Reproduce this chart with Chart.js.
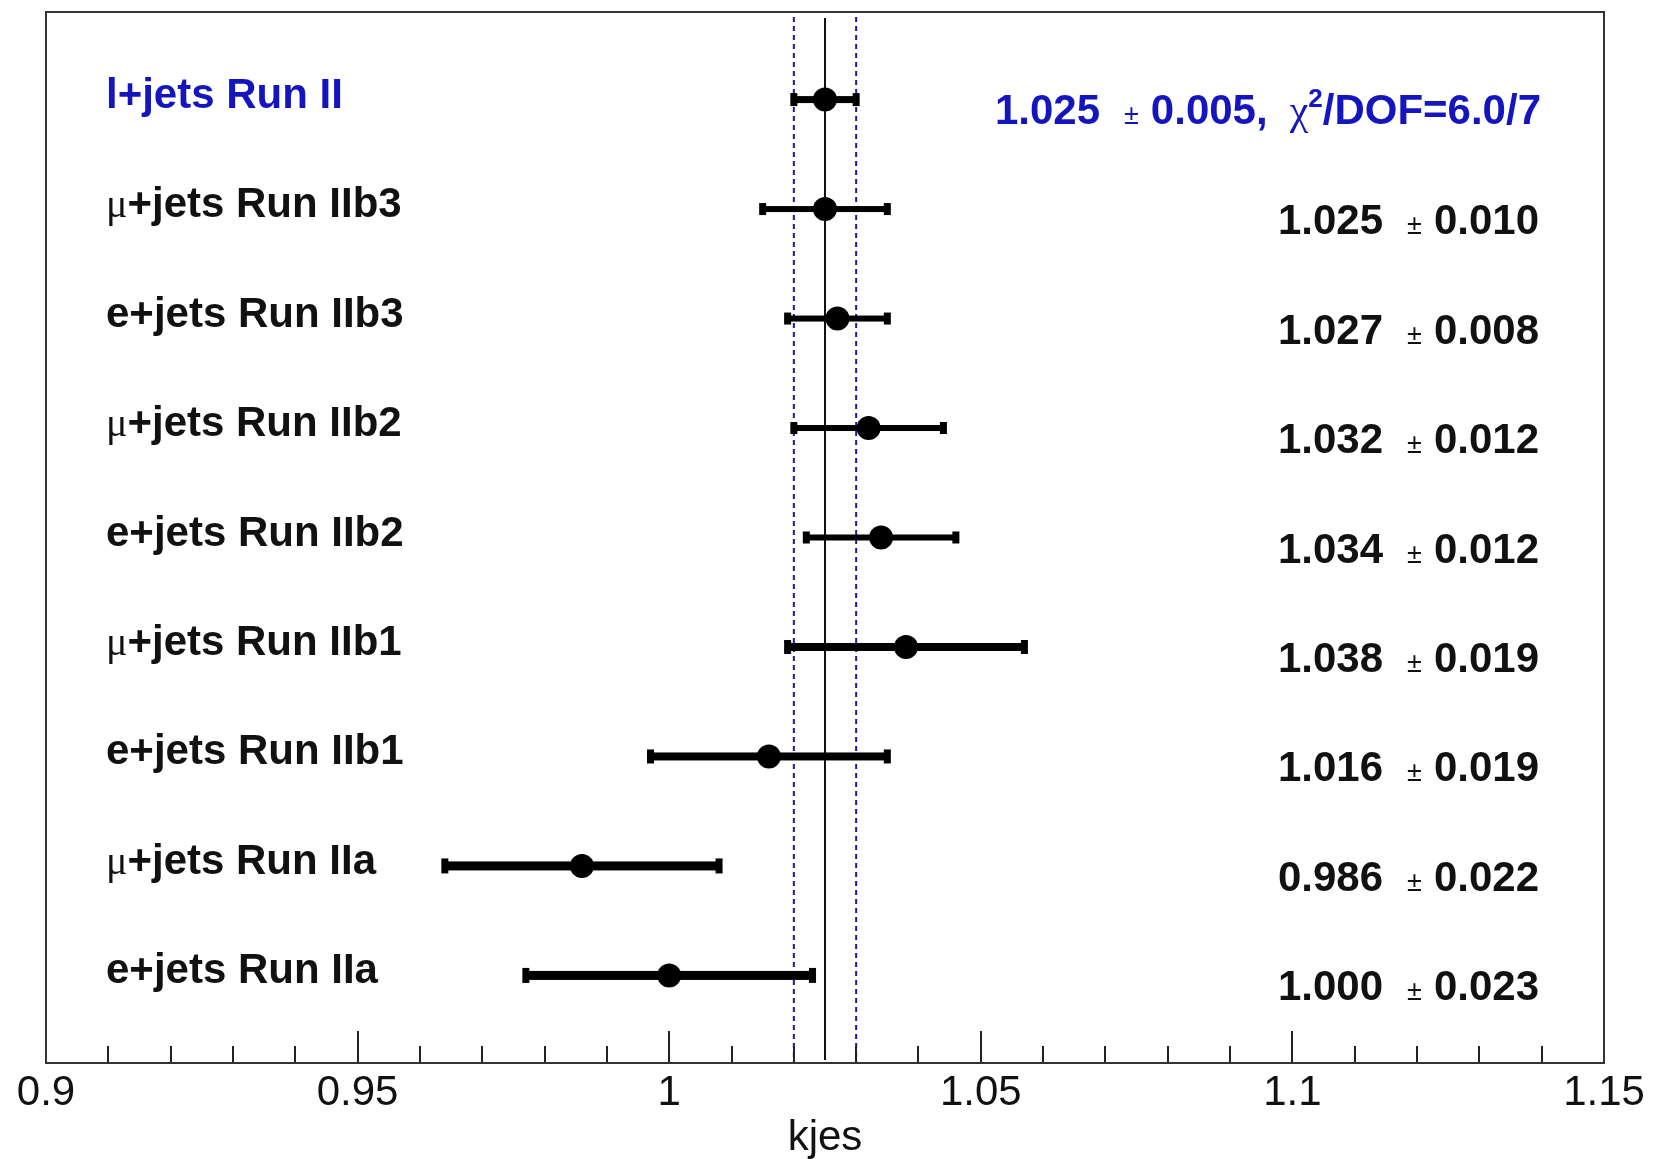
<!DOCTYPE html>
<html>
<head>
<meta charset="utf-8">
<script src="https://cdn.jsdelivr.net/npm/chart.js@4/dist/chart.umd.min.js"></script>
<style>
  html, body { margin: 0; padding: 0; background: #fff; }
  canvas { display: block; }
</style>
</head>
<body>
<canvas id="kjes-chart" width="1653" height="1159"></canvas>
<script>
// kjes per channel, top row is the combined fit
const channels = ['l+jets Run II', 'μ+jets Run IIb3', 'e+jets Run IIb3', 'μ+jets Run IIb2', 'e+jets Run IIb2',
                  'μ+jets Run IIb1', 'e+jets Run IIb1', 'μ+jets Run IIa', 'e+jets Run IIa'];
const kjes    = [1.025, 1.025, 1.027, 1.032, 1.034, 1.038, 1.016, 0.986, 1.000];
const kjesErr = [0.005, 0.010, 0.008, 0.012, 0.012, 0.019, 0.019, 0.022, 0.023];
const fitValue = 1.025;
const fitErr = 0.005;
const fitChi2 = '6.0/7';
const xTicks = [0.9, 0.95, 1, 1.05, 1.1, 1.15];

// drawing styles
const barWidths = [7, 6, 6, 6, 6, 8, 8, 9, 9];   // error bar thickness per row
const blue = '#1515c0';
const ink = '#111';
const SANS = '"Liberation Sans", Arial, sans-serif';
const SERIF = '"Liberation Serif", "Times New Roman", serif';

// draw a list of text runs (different fonts), r.gap adds space after a run
function drawRuns(ctx, runs, x, baseline, align) {
    let total = 0;
    runs.forEach(r => {
        ctx.font = r.font;
        r.w = ctx.measureText(r.text).width + (r.gap || 0);
        total += r.w;
    });
    let cx = align === 'right' ? x - total : x;
    ctx.textAlign = 'left';
    ctx.textBaseline = 'alphabetic';
    runs.forEach(r => {
        ctx.font = r.font;
        ctx.fillStyle = r.color;
        ctx.fillText(r.text, cx, baseline + (r.dy || 0));
        cx += r.w;
    });
}

function valueRuns(v, e, color) {
    const bold = 'bold 42px ' + SANS;
    return [
        {text: v.toFixed(3), font: bold, color, gap: 24},
        {text: '±', font: '27px ' + SANS, color, gap: 12},
        {text: e.toFixed(3), font: bold, color}
    ];
}

const forestPlot = {
    id: 'forestPlot',
    beforeDatasetsDraw(chart) {
        const {ctx, chartArea: a, scales: {x, y}} = chart;
        ctx.save();

        // combined result and its +-1 sigma edges
        const xc = x.getPixelForValue(fitValue);
        ctx.strokeStyle = ink;
        ctx.lineWidth = 2;
        ctx.beginPath();
        ctx.moveTo(xc, a.top + 6);
        ctx.lineTo(xc, a.bottom - 3);
        ctx.stroke();

        ctx.strokeStyle = '#1c1c8c';
        ctx.setLineDash([5, 4]);
        [fitValue - fitErr, fitValue + fitErr].forEach(v => {
            const xp = x.getPixelForValue(v);
            ctx.beginPath();
            ctx.moveTo(xp, a.top + 5);
            ctx.lineTo(xp, a.bottom);
            ctx.stroke();
        });
        ctx.setLineDash([]);

        // horizontal error bars with end caps
        ctx.fillStyle = '#000';
        kjes.forEach((v, i) => {
            const yp = y.getPixelForValue(i);
            const x0 = x.getPixelForValue(v - kjesErr[i]);
            const x1 = x.getPixelForValue(v + kjesErr[i]);
            const w = barWidths[i];
            ctx.fillRect(x0, yp - w / 2, x1 - x0, w);
            const capW = 7, capH = w + 6;
            ctx.fillRect(x0 - capW / 2, yp - capH / 2, capW, capH);
            ctx.fillRect(x1 - capW / 2, yp - capH / 2, capW, capH);
        });
        ctx.restore();
    },
    afterDraw(chart) {
        const {ctx, chartArea: a, scales: {x, y}} = chart;
        ctx.save();

        // ticks pointing into the frame
        ctx.strokeStyle = '#222';
        ctx.lineWidth = 2;
        for (let k = 0; k <= 25; k++) {
            const v = 0.9 + k * 0.01;
            const xp = Math.round(x.getPixelForValue(v));
            const len = k % 5 === 0 ? 32 : 17;
            ctx.beginPath();
            ctx.moveTo(xp, a.bottom);
            ctx.lineTo(xp, a.bottom - len);
            ctx.stroke();
        }

        // frame
        ctx.strokeStyle = '#333';
        ctx.strokeRect(a.left, a.top, a.right - a.left, a.bottom - a.top);

        // channel names on the left
        channels.forEach((name, i) => {
            const yp = y.getPixelForValue(i);
            const color = i === 0 ? blue : ink;
            const runs = [];
            let rest = name;
            if (name.startsWith('μ')) {
                runs.push({text: 'μ', font: '40px ' + SERIF, color});
                rest = name.slice(1);
            }
            runs.push({text: rest, font: 'bold 42px ' + SANS, color});
            drawRuns(ctx, runs, 106, yp + 8, 'left');
        });

        // values on the right
        kjes.forEach((v, i) => {
            const yp = y.getPixelForValue(i);
            if (i === 0) {
                const runs = valueRuns(fitValue, fitErr, blue);
                runs[2].text += ',';
                runs[2].gap = 22;
                runs.push({text: 'χ', font: '42px ' + SERIF, color: blue});
                runs.push({text: '2', font: 'bold 26px ' + SANS, color: blue, dy: -17});
                runs.push({text: '/DOF=' + fitChi2, font: 'bold 42px ' + SANS, color: blue});
                drawRuns(ctx, runs, 1541, yp + 24, 'right');
            } else {
                drawRuns(ctx, valueRuns(v, kjesErr[i], ink), 1539, yp + 25, 'right');
            }
        });
        ctx.restore();
    }
};

new Chart(document.getElementById('kjes-chart'), {
    type: 'scatter',
    data: {
        datasets: [{
            data: kjes.map((v, i) => ({x: v, y: i})),
            pointRadius: 12,
            pointHoverRadius: 12,
            backgroundColor: '#000',
            borderWidth: 0
        }]
    },
    options: {
        responsive: false,
        animation: false,
        devicePixelRatio: 1,
        layout: {padding: {left: 46, right: 49, top: 7, bottom: 0}},
        plugins: {legend: {display: false}, tooltip: {enabled: false}},
        scales: {
            x: {
                type: 'linear',
                min: 0.9,
                max: 1.15,
                afterBuildTicks: scale => { scale.ticks = xTicks.map(v => ({value: v})); },
                afterFit: scale => { scale.height = 96; },
                grid: {display: false, drawTicks: false},
                border: {display: false},
                ticks: {
                    padding: 5,
                    maxRotation: 0,
                    color: ink,
                    font: {family: SANS, size: 42},
                    callback: v => String(Number(v.toFixed(2)))
                },
                title: {
                    display: true,
                    text: 'kjes',
                    color: ink,
                    font: {family: SANS, size: 42, lineHeight: 1},
                    padding: {top: 0, bottom: 0}
                }
            },
            y: {
                type: 'linear',
                display: false,
                reverse: true,
                min: -0.8,
                max: 8.8
            }
        }
    },
    plugins: [forestPlot]
});
</script>
</body>
</html>
